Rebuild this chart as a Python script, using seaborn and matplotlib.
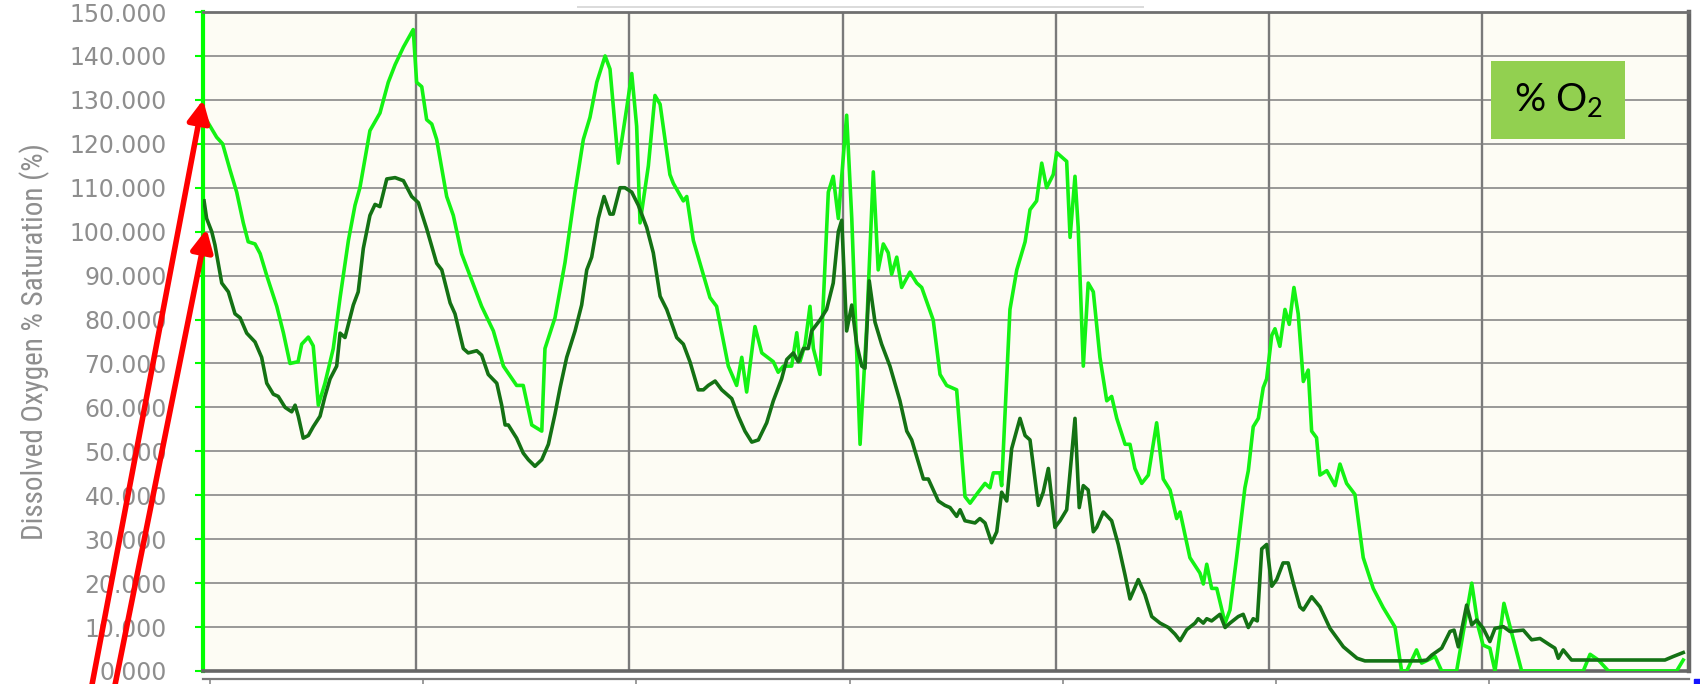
import matplotlib
matplotlib.use('Agg')
import matplotlib.pyplot as plt
import matplotlib.lines as mlines
import matplotlib.patches as mpatches
import seaborn as sns

# elapsed time (days) and dissolved oxygen (% saturation)
# light green trace
upper_days = [0.000, 0.009, 0.064, 0.092, 0.127, 0.158, 0.189, 0.212, 0.244, 0.268,
              0.299, 0.346, 0.377, 0.408, 0.446, 0.463, 0.494, 0.517, 0.541, 0.572,
              0.611, 0.643, 0.682, 0.713, 0.736, 0.783, 0.830, 0.869, 0.901, 0.940,
              0.986, 1.002, 1.026, 1.049, 1.073, 1.096, 1.143, 1.174, 1.213, 1.260,
              1.307, 1.362, 1.409, 1.471, 1.502, 1.542, 1.589, 1.604, 1.651, 1.698,
              1.745, 1.784, 1.815, 1.847, 1.886, 1.909, 1.948, 1.987, 2.011, 2.034,
              2.050, 2.089, 2.120, 2.144, 2.190, 2.206, 2.253, 2.269, 2.300, 2.378,
              2.409, 2.464, 2.503, 2.527, 2.550, 2.589, 2.621, 2.675, 2.698, 2.722,
              2.761, 2.785, 2.800, 2.824, 2.847, 2.863, 2.894, 2.933, 2.956, 2.980,
              3.019, 3.043, 3.082, 3.113, 3.144, 3.167, 3.191, 3.214, 3.230, 3.254,
              3.277, 3.316, 3.348, 3.371, 3.425, 3.457, 3.488, 3.535, 3.574, 3.598,
              3.636, 3.668, 3.691, 3.707, 3.738, 3.746, 3.762, 3.785, 3.817, 3.856,
              3.879, 3.910, 3.934, 3.957, 3.988, 4.004, 4.051, 4.067, 4.090, 4.105,
              4.129, 4.152, 4.176, 4.207, 4.239, 4.262, 4.286, 4.325, 4.348, 4.371,
              4.403, 4.434, 4.473, 4.504, 4.536, 4.567, 4.583, 4.629, 4.676, 4.692,
              4.708, 4.731, 4.755, 4.794, 4.817, 4.848, 4.887, 4.903, 4.926, 4.950,
              4.973, 4.989, 5.013, 5.028, 5.051, 5.075, 5.095, 5.117, 5.137, 5.161,
              5.184, 5.200, 5.223, 5.239, 5.271, 5.310, 5.333, 5.364, 5.403, 5.442,
              5.489, 5.536, 5.591, 5.622, 5.646, 5.692, 5.716, 5.779, 5.810, 5.880,
              5.951, 5.981, 6.004, 6.036, 6.060, 6.102, 6.185, 6.474, 6.506, 6.545,
              6.592, 6.912, 6.943]
upper_pct = [127.5, 126.0, 121.5, 120.0, 114.0, 109.0, 102.0, 97.7, 97.2, 95.0,
             90.0, 83.0, 77.0, 70.0, 70.4, 74.4, 76.0, 74.0, 60.5, 65.5,
             73.4, 85.0, 98.0, 106.0, 110.0, 123.0, 127.0, 134.0, 138.0, 142.0,
             146.0, 134.0, 133.0, 125.5, 124.5, 121.0, 108.0, 103.7, 95.0, 89.0,
             83.0, 77.4, 69.4, 65.0, 65.0, 56.0, 54.6, 73.4, 80.4, 93.0,
             109.0, 121.0, 126.0, 134.0, 140.0, 137.0, 115.6, 128.0, 136.0, 124.0,
             102.0, 115.0, 131.0, 129.0, 113.0, 111.0, 107.0, 108.0, 98.0, 85.0,
             83.0, 69.4, 65.0, 71.4, 63.5, 78.4, 72.4, 70.4, 68.0, 69.4,
             69.4, 77.0, 70.4, 74.4, 83.0, 73.4, 67.5, 109.0, 112.6, 103.0,
             126.5, 103.0, 51.6, 78.4, 113.6, 91.3, 97.2, 95.2, 90.3, 94.2,
             87.3, 90.8, 88.3, 87.3, 79.9, 67.5, 65.0, 64.0, 39.7, 38.2,
             40.7, 42.7, 41.7, 45.1, 45.1, 42.2, 58.5, 82.3, 91.3, 97.7,
             105.0, 107.0, 115.6, 110.0, 113.0, 118.0, 116.0, 98.7, 112.6, 101.0,
             69.4, 88.3, 86.3, 71.4, 61.5, 62.5, 57.5, 51.6, 51.6, 46.1,
             42.7, 44.6, 56.5, 43.7, 41.2, 34.7, 36.2, 25.8, 22.3, 19.8,
             24.3, 18.8, 18.8, 10.9, 13.9, 25.8, 41.7, 45.6, 55.6, 57.5,
             64.5, 66.5, 76.4, 77.9, 73.9, 82.3, 78.9, 87.3, 81.3, 65.9,
             68.5, 54.6, 53.1, 44.6, 45.6, 42.2, 47.1, 42.7, 40.2, 25.8,
             18.8, 14.4, 10.0, 0.0, 0.0, 4.8, 1.8, 3.3, 0.0, 0.0,
             20.0, 10.1, 5.9, 5.2, 0.0, 15.4, 0.0, 0.0, 3.8, 2.5,
             0.0, 0.0, 2.5]

# dark green trace
lower_days = [0.005, 0.017, 0.041, 0.056, 0.088, 0.119, 0.150, 0.174, 0.205, 0.244,
              0.275, 0.299, 0.330, 0.353, 0.385, 0.416, 0.432, 0.447, 0.470, 0.494,
              0.517, 0.549, 0.572, 0.596, 0.627, 0.643, 0.666, 0.705, 0.728, 0.752,
              0.783, 0.807, 0.830, 0.862, 0.901, 0.940, 0.979, 1.010, 1.049, 1.096,
              1.120, 1.159, 1.182, 1.221, 1.244, 1.284, 1.307, 1.338, 1.378, 1.401,
              1.417, 1.432, 1.471, 1.502, 1.526, 1.557, 1.589, 1.620, 1.651, 1.675,
              1.706, 1.745, 1.776, 1.800, 1.823, 1.854, 1.881, 1.909, 1.924, 1.956,
              1.979, 2.011, 2.042, 2.081, 2.112, 2.144, 2.175, 2.222, 2.253, 2.284,
              2.323, 2.347, 2.370, 2.402, 2.433, 2.480, 2.511, 2.542, 2.574, 2.605,
              2.644, 2.675, 2.714, 2.738, 2.769, 2.792, 2.816, 2.839, 2.855, 2.894,
              2.925, 2.956, 2.980, 2.996, 3.019, 3.043, 3.066, 3.090, 3.105, 3.125,
              3.152, 3.183, 3.222, 3.269, 3.301, 3.324, 3.379, 3.402, 3.449, 3.480,
              3.504, 3.535, 3.551, 3.574, 3.621, 3.644, 3.668, 3.699, 3.723, 3.746,
              3.770, 3.793, 3.832, 3.856, 3.879, 3.918, 3.941, 3.965, 3.996, 4.020,
              4.051, 4.090, 4.110, 4.129, 4.152, 4.176, 4.192, 4.223, 4.262, 4.293,
              4.325, 4.348, 4.387, 4.418, 4.450, 4.489, 4.528, 4.559, 4.583, 4.614,
              4.653, 4.668, 4.692, 4.708, 4.731, 4.770, 4.794, 4.817, 4.856, 4.879,
              4.903, 4.926, 4.945, 4.966, 4.989, 5.013, 5.036, 5.066, 5.090, 5.114,
              5.145, 5.161, 5.200, 5.239, 5.286, 5.349, 5.413, 5.450, 5.708, 5.740,
              5.763, 5.810, 5.849, 5.868, 5.888, 5.927, 5.951, 5.974, 6.005, 6.036,
              6.060, 6.099, 6.130, 6.193, 6.232, 6.271, 6.318, 6.341, 6.357, 6.380,
              6.419, 6.857, 6.896, 6.943]
lower_pct = [107.0, 103.0, 100.0, 97.0, 88.3, 86.3, 81.3, 80.4, 76.9, 74.9,
             71.4, 65.5, 63.0, 62.5, 60.0, 59.0, 60.5, 58.0, 53.0, 53.6,
             55.6, 58.0, 62.5, 66.5, 69.4, 76.9, 75.9, 83.3, 86.3, 96.2,
             103.7, 106.2, 105.7, 112.0, 112.3, 111.6, 108.0, 106.6, 100.7, 92.8,
             91.3, 83.8, 81.3, 73.4, 72.4, 72.9, 71.9, 67.5, 65.5, 60.5,
             56.0, 56.0, 53.0, 49.6, 48.1, 46.6, 48.1, 51.6, 58.5, 64.5,
             71.4, 77.4, 83.3, 91.3, 94.2, 103.0, 108.0, 104.0, 104.0, 110.0,
             110.0, 109.0, 106.0, 101.0, 95.2, 85.3, 82.3, 75.9, 74.4, 70.4,
             64.0, 64.0, 65.0, 66.0, 64.0, 62.0, 58.0, 54.6, 52.1, 52.6,
             56.5, 61.5, 66.5, 70.9, 72.4, 70.4, 73.4, 73.4, 77.4, 79.9,
             82.3, 88.3, 100.0, 102.6, 77.4, 83.3, 74.4, 69.4, 68.9, 88.8,
             79.4, 74.4, 69.4, 61.5, 54.6, 52.6, 43.7, 43.7, 38.7, 37.7,
             37.2, 35.2, 36.7, 34.2, 33.7, 34.7, 33.7, 29.2, 31.7, 40.7,
             38.7, 50.6, 57.5, 53.6, 52.6, 37.7, 40.7, 46.1, 32.7, 34.2,
             36.7, 57.5, 37.2, 42.2, 41.2, 31.7, 32.7, 36.2, 34.2, 28.8,
             21.8, 16.4, 20.8, 17.4, 12.4, 10.9, 9.9, 8.4, 6.9, 9.4,
             10.9, 11.9, 10.9, 11.9, 11.4, 12.9, 9.9, 10.9, 12.4, 12.9,
             9.9, 11.9, 11.4, 27.8, 28.8, 19.3, 20.8, 24.6, 24.6, 20.0,
             14.6, 13.9, 16.9, 14.6, 9.7, 5.5, 2.9, 2.3, 2.3, 2.5,
             3.6, 5.2, 9.0, 9.3, 5.5, 15.0, 10.5, 11.6, 9.7, 6.7,
             9.7, 10.1, 9.0, 9.3, 7.1, 7.4, 5.9, 5.2, 2.9, 4.8,
             2.5, 2.5, 3.3, 4.2]

ytick_vals = list(range(0, 151, 10))
ytick_labels = [f'{v}.000' for v in ytick_vals]
day_lines = [0, 1, 2, 3, 4, 5, 6]

plt.rcParams['font.family'] = ['DejaVu Sans']
plt.rcParams['mathtext.fontset'] = 'custom'
plt.rcParams['mathtext.rm'] = 'Lato'
plt.rcParams['mathtext.it'] = 'Lato:italic'
plt.rcParams['mathtext.bf'] = 'Lato:bold'

W, H = 1700, 684
fig = plt.figure(figsize=(W / 100, H / 100), dpi=100)
fig.patch.set_facecolor('white')
ax = fig.add_axes([203 / W, 1 - 671 / H, 1486 / W, 659 / H])
ax.set_facecolor('#fdfcf4')

sns.lineplot(x=upper_days, y=upper_pct, color='#14f214', lw=2.6,
             estimator=None, sort=False, ax=ax, zorder=3)
sns.lineplot(x=lower_days, y=lower_pct, color='#147214', lw=2.6,
             estimator=None, sort=False, ax=ax, zorder=4)

ax.set_xlim(0, 6.97)
ax.set_ylim(0, 150)
ax.set_xticks(day_lines)
ax.set_yticks(ytick_vals, ytick_labels)
ax.set_axisbelow(True)
ax.grid(True, axis='y', color='#7e7e7e', lw=1.1)
ax.grid(True, axis='x', color='#7a7a7a', lw=1.7)
ax.tick_params(axis='x', length=0, labelbottom=False)
ax.tick_params(axis='y', color='#00ff00', width=1.5, length=6,
               labelcolor='#8e8e8e', labelsize=17, pad=20)
ax.set_xlabel('')
# narrow face for the axis title
ax.set_ylabel('Dissolved Oxygen % Saturation (%)', color='#8e8e8e', fontsize=21,
              family=['Roboto Condensed', 'Liberation Sans Narrow', 'Liberation Sans'],
              fontstretch='condensed')
ax.yaxis.set_label_coords(-0.103, 0.5)

ax.spines['left'].set_color('#00ff00')
ax.spines['left'].set_linewidth(3)
ax.spines['top'].set_color('#6f6f6f')
ax.spines['top'].set_linewidth(2)
ax.spines['right'].set_color('#666666')
ax.spines['right'].set_linewidth(3.2)
ax.spines['bottom'].set_color('#666666')
ax.spines['bottom'].set_linewidth(2.6)

# "% O2" tag
ax.add_patch(mpatches.Rectangle((0.8668, 0.8073), 0.0901, 0.1183, transform=ax.transAxes,
                                facecolor='#92d050', edgecolor='none', zorder=6))
ax.text(0.9118, 0.866, '% O$_2$', transform=ax.transAxes, ha='center', va='center',
        fontsize=28, family='Lato', color='black', zorder=7)

# red arrows to the starting values
arrow_style = dict(arrowstyle='-|>,head_length=0.6,head_width=0.3', color='red',
                   lw=4, mutation_scale=22, shrinkA=0, shrinkB=0)
ax.annotate('', xy=(0.0, 130), xycoords='data', xytext=(91, -6),
            textcoords='figure pixels', arrowprops=arrow_style, annotation_clip=False)
ax.annotate('', xy=(0.017, 100.6), xycoords='data', xytext=(114, -6),
            textcoords='figure pixels', arrowprops=arrow_style, annotation_clip=False)

# strip of the x axis panel under the plot
strip = fig.add_axes([203 / W, 0, 1486 / W, 5 / H])
strip.set_xlim(0, 6.97)
strip.set_ylim(0, 1)
strip.set_facecolor('white')
for d in day_lines:
    strip.axvline(d + 0.033, color='#8a8a8a', lw=1.2)
strip.set_xticks([])
strip.set_yticks([])
for side in ['left', 'right', 'bottom']:
    strip.spines[side].set_visible(False)
strip.spines['top'].set_color('#7a7a7a')
strip.spines['top'].set_linewidth(1.6)

# faint scroll line above the chart and the blue handle bottom right
fig.add_artist(mlines.Line2D([578 / W, 1143 / W], [1 - 7 / H, 1 - 7 / H],
                             color='#dadada', lw=1.4))
fig.add_artist(mpatches.Rectangle((1694 / W, 0), 6 / W, 5 / H, color='#1414ff',
                                  transform=fig.transFigure))

fig.savefig('out.png', dpi=100)
